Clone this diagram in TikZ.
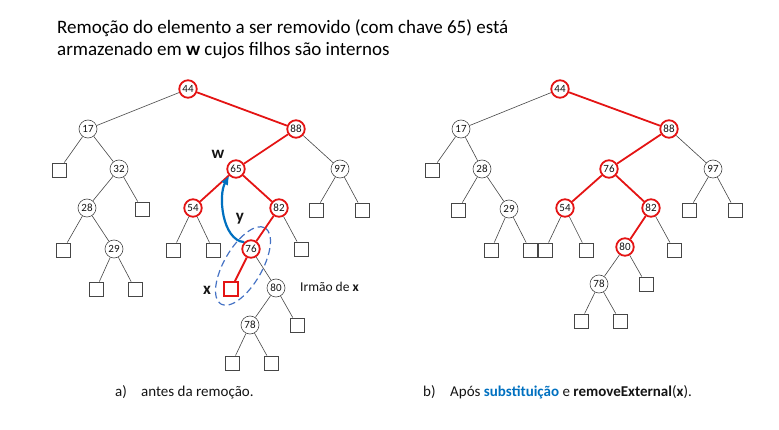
\documentclass[tikz,border=0pt]{standalone}
\usepackage{fontspec}
\setmainfont{Carlito}
\usetikzlibrary{arrows.meta}
\definecolor{myred}{RGB}{228,20,20}
\definecolor{myblue}{RGB}{0,112,192}
\definecolor{dashblue}{RGB}{68,114,196}
\definecolor{edgegray}{RGB}{70,70,70}
\definecolor{txt}{RGB}{20,20,20}
\begin{document}
\begin{tikzpicture}[x=1pt,y=-1pt,
 inode/.style={circle, draw=edgegray, line width=0.6pt, fill=white, inner sep=0pt, minimum size=18pt, font=\fontsize{11}{11}\selectfont, text=txt},
 rnode/.style={inode, draw=myred, line width=1.8pt, minimum size=17.5pt},
 leaf/.style={rectangle, draw=edgegray, line width=0.8pt, fill=white, inner sep=0pt, minimum size=14pt},
 rleaf/.style={leaf, draw=myred, line width=1.5pt},
 bedge/.style={draw=edgegray, line width=0.6pt},
 redg/.style={draw=myred, line width=1.8pt},
 lbl/.style={font=\fontsize{17}{17}\selectfont\bfseries, inner sep=0pt, text=txt},
 ttl/.style={anchor=base west, inner sep=0pt, font=\fontsize{19}{19}\selectfont, text=black},
 captxt/.style={anchor=base west, inner sep=0pt, font=\fontsize{15}{15}\selectfont, text=txt},
]
\useasboundingbox (0,0) rectangle (779,430);

% title
\node[ttl] (t1) at (57,34) {Remoção do elemento a ser removido (com chave 65) está};
\node[ttl] (t2) at (57,56) {armazenado em \textbf{w} cujos filhos são internos};

% dashed ellipse
\draw[dashblue, line width=1.2pt, dash pattern=on 7pt off 4pt, rotate around={60:(243,266)}] (243,266) ellipse (44 and 19);

% ---------- left tree ----------
\node[rnode] (a44) at (188,89) {44};
\node[inode] (a17) at (88,129) {17};
\node[leaf] (a17l) at (59,170) {};
\node[inode] (a32) at (119,169) {32};
\node[inode] (a28) at (87,208) {28};
\node[leaf] (a32r) at (142,209) {};
\node[leaf] (a28l) at (63,250) {};
\node[inode] (a29) at (114,249) {29};
\node[leaf] (a29l) at (96,289) {};
\node[leaf] (a29r) at (135,289) {};
\node[rnode] (a88) at (296,129) {88};
\node[rnode] (a65) at (236,169) {65};
\node[inode] (a97) at (340,169) {97};
\node[leaf] (a97l) at (316,210) {};
\node[leaf] (a97r) at (362,210) {};
\node[rnode] (a54) at (193,208) {54};
\node[leaf] (a54l) at (173,250) {};
\node[leaf] (a54r) at (213,250) {};
\node[rnode] (a82) at (279,208) {82};
\node[rnode] (a76) at (251,249) {76};
\node[leaf] (a82r) at (301,249) {};
\node[rleaf] (ax) at (231,289) {};
\node[inode] (a80) at (276,288) {80};
\node[inode] (a78) at (250,325) {78};
\node[leaf] (a80r) at (297,325) {};
\node[leaf] (a78l) at (232,363) {};
\node[leaf] (a78r) at (271,363) {};

\draw[bedge] (a44) -- (a17);
\draw[redg] (a44) -- (a88);
\draw[bedge] (a17) -- (a17l);
\draw[bedge] (a17) -- (a32);
\draw[bedge] (a32) -- (a28);
\draw[bedge] (a32) -- (a32r);
\draw[bedge] (a28) -- (a28l);
\draw[bedge] (a28) -- (a29);
\draw[bedge] (a29) -- (a29l);
\draw[bedge] (a29) -- (a29r);
\draw[redg] (a88) -- (a65);
\draw[bedge] (a88) -- (a97);
\draw[bedge] (a97) -- (a97l);
\draw[bedge] (a97) -- (a97r);
\draw[redg] (a65) -- (a54);
\draw[redg] (a65) -- (a82);
\draw[bedge] (a54) -- (a54l);
\draw[bedge] (a54) -- (a54r);
\draw[redg] (a82) -- (a76);
\draw[bedge] (a82) -- (a82r);
\draw[redg] (a76) -- (ax);
\draw[bedge] (a76) -- (a80);
\draw[bedge] (a80) -- (a78);
\draw[bedge] (a80) -- (a80r);
\draw[bedge] (a78) -- (a78l);
\draw[bedge] (a78) -- (a78r);

% blue arrow
\draw[myblue, line width=2.2pt, -{Latex[length=9pt,width=8pt]}] (a76.north west) .. controls (222,240) and (218,195) .. (a65.south west);

% labels
\node[lbl] (lw) at (218,154) {w};
\node[lbl] (ly) at (240,219) {y};
\node[lbl] (lx) at (207,290) {x};
\node[anchor=base west, inner sep=0pt, font=\fontsize{13.5}{13.5}\selectfont, text=txt] (irm) at (300,292) {Irmão de \textbf{x}};

% ---------- right tree ----------
\node[rnode] (b44) at (560,89) {44};
\node[inode] (b17) at (461,129) {17};
\node[leaf] (b17l) at (432,170) {};
\node[inode] (b28) at (482,169) {28};
\node[leaf] (b28l) at (458,210) {};
\node[inode] (b29) at (509,209) {29};
\node[leaf] (b29l) at (491,250) {};
\node[leaf] (b29r) at (530,250) {};
\node[rnode] (b88) at (669,129) {88};
\node[rnode] (b76) at (609,169) {76};
\node[inode] (b97) at (713,169) {97};
\node[leaf] (b97l) at (689,210) {};
\node[leaf] (b97r) at (735,210) {};
\node[rnode] (b54) at (565,208) {54};
\node[leaf] (b54l) at (545,250) {};
\node[leaf] (b54r) at (586,250) {};
\node[rnode] (b82) at (651,208) {82};
\node[rnode] (b80) at (625,247) {80};
\node[leaf] (b82r) at (674,250) {};
\node[inode] (b78) at (599,284) {78};
\node[leaf] (b80r) at (646,284) {};
\node[leaf] (b78l) at (581,321) {};
\node[leaf] (b78r) at (620,321) {};

\draw[bedge] (b44) -- (b17);
\draw[redg] (b44) -- (b88);
\draw[bedge] (b17) -- (b17l);
\draw[bedge] (b17) -- (b28);
\draw[bedge] (b28) -- (b28l);
\draw[bedge] (b28) -- (b29);
\draw[bedge] (b29) -- (b29l);
\draw[bedge] (b29) -- (b29r);
\draw[redg] (b88) -- (b76);
\draw[bedge] (b88) -- (b97);
\draw[bedge] (b97) -- (b97l);
\draw[bedge] (b97) -- (b97r);
\draw[redg] (b76) -- (b54);
\draw[redg] (b76) -- (b82);
\draw[bedge] (b54) -- (b54l);
\draw[bedge] (b54) -- (b54r);
\draw[redg] (b82) -- (b80);
\draw[bedge] (b82) -- (b82r);
\draw[bedge] (b80) -- (b78);
\draw[bedge] (b80) -- (b80r);
\draw[bedge] (b78) -- (b78l);
\draw[bedge] (b78) -- (b78r);

% captions
\node[captxt] (ca) at (115,396) {a)};
\node[captxt] (cat) at (141,396) {antes da remoção.};
\node[captxt] (cb) at (423,396) {b)};
\node[captxt] (cbt) at (450,396) {Após \textcolor{myblue}{\textbf{substituição}} e \textbf{removeExternal}(\textbf{x}).};
\end{tikzpicture}
\end{document}
